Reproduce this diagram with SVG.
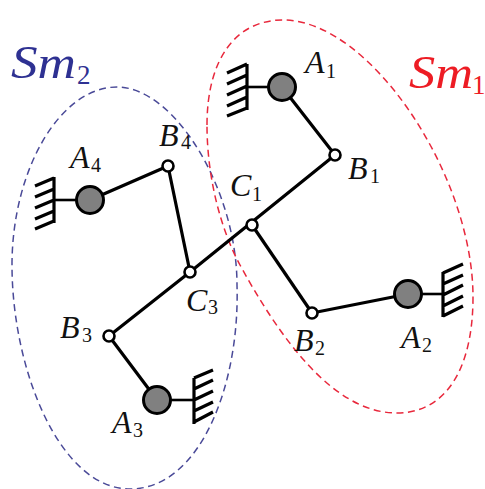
<svg xmlns="http://www.w3.org/2000/svg" width="485" height="489" viewBox="0 0 485 489">
<style>
.link{fill:none;stroke:#000;stroke-width:3.2;stroke-linecap:round}
.ground{fill:none;stroke:#000;stroke-width:3.2}
.ground-stem{fill:none;stroke:#000;stroke-width:2.6}
.fixed{fill:#808080;stroke:#000;stroke-width:3}
.joint{fill:#fff;stroke:#000;stroke-width:2.6}
.lbl{font-family:"Liberation Serif",serif;font-style:italic;font-size:32px;fill:#111}
.lbl.sub{font-style:normal;font-size:20px}
.big{font-family:"Liberation Serif",serif;font-style:italic;font-size:47px}
.big.bigsub{font-style:normal;font-size:27px}
.region{fill:none;stroke-width:1.5;stroke-dasharray:7 4.5}
</style>
<rect width="485" height="489" fill="#fff"/>
<g id="region-sm2">
<path class="region" stroke="#4a4a98" d="M12 265C12 170 60 87 117 87C175 87 237 190 237 285C240 385 200 489 130 489C60 489 12 370 12 265Z"/>
<text class="big" fill="#2e3192" x="11" y="78" textLength="65" lengthAdjust="spacingAndGlyphs">Sm</text><text class="big bigsub" fill="#2e3192" x="77" y="84">2</text>
</g>
<g id="region-sm1">
<path class="region" stroke="#e8283c" d="M207 125C207 60 235 20 283 20C370 20 473 175 473 297C473 370 445 413 397 413C345 413 294 364 240 265C222 232 207 180 207 125Z"/>
<text class="big" fill="#ed1c24" x="409" y="88" textLength="64" lengthAdjust="spacingAndGlyphs">Sm</text><text class="big bigsub" fill="#ed1c24" x="472" y="94">1</text>
</g>
<g id="connectors">
<path class="link" d="M282 87L335 155"/>
<path class="link" d="M335 155L190 272"/>
<path class="link" d="M252 225L312 313"/>
<path class="link" d="M312 313L408 294"/>
<path class="link" d="M90 200L168 166"/>
<path class="link" d="M168 166L190 272"/>
<path class="link" d="M190 272L109 336"/>
<path class="link" d="M109 336L157 400"/>
</g>
<g id="A1">
<path class="ground-stem" d="M247 87H270"/>
<path class="ground" d="M247 64V110M247 64L227 73M247 75L227 84M247 86L227 95M247 97L227 106M247 108L227 116"/>
<circle class="fixed" cx="282" cy="87" r="13.5"/>
<text class="lbl" x="305" y="73">A</text><text class="lbl sub" x="326" y="78">1</text>
</g>
<g id="B1"><circle class="joint" cx="335" cy="155" r="5.5"/>
<text class="lbl" x="348" y="179">B</text><text class="lbl sub" x="370" y="183">1</text></g>
<g id="C1"><circle class="joint" cx="252" cy="225" r="5.5"/>
<text class="lbl" x="230" y="196">C</text><text class="lbl sub" x="252" y="201">1</text></g>
<g id="B2"><circle class="joint" cx="312" cy="313" r="5.5"/>
<text class="lbl" x="294" y="351">B</text><text class="lbl sub" x="315" y="355">2</text></g>
<g id="A2">
<path class="ground-stem" d="M421 294H443"/>
<path class="ground" d="M443 272V317M443 273L463 264M443 284L463 275M443 295L463 285M443 306L463 296M443 316L463 306"/>
<circle class="fixed" cx="408" cy="294" r="13.5"/>
<text class="lbl" x="401" y="348">A</text><text class="lbl sub" x="422" y="352">2</text>
</g>
<g id="A4">
<path class="ground-stem" d="M54 200H77"/>
<path class="ground" d="M54 177V223M54 178L35 186M54 189L35 197M54 200L35 208M54 211L35 219M54 221L35 229"/>
<circle class="fixed" cx="90" cy="200" r="13.5"/>
<text class="lbl" x="70" y="168">A</text><text class="lbl sub" x="91" y="172">4</text>
</g>
<g id="B4"><circle class="joint" cx="168" cy="166" r="5.5"/>
<text class="lbl" x="159" y="146">B</text><text class="lbl sub" x="181" y="149">4</text></g>
<g id="C3"><circle class="joint" cx="190" cy="272" r="5.5"/>
<text class="lbl" x="186" y="311">C</text><text class="lbl sub" x="208" y="314">3</text></g>
<g id="B3"><circle class="joint" cx="109" cy="336" r="5.5"/>
<text class="lbl" x="60" y="338">B</text><text class="lbl sub" x="82" y="342">3</text></g>
<g id="A3">
<path class="ground-stem" d="M170 400H194"/>
<path class="ground" d="M194 378V424M194 378L213 370M194 389L213 380M194 400L213 391M194 411L213 402M194 422L213 412"/>
<circle class="fixed" cx="157" cy="400" r="13.5"/>
<text class="lbl" x="112" y="433">A</text><text class="lbl sub" x="133" y="437">3</text>
</g>
</svg>
